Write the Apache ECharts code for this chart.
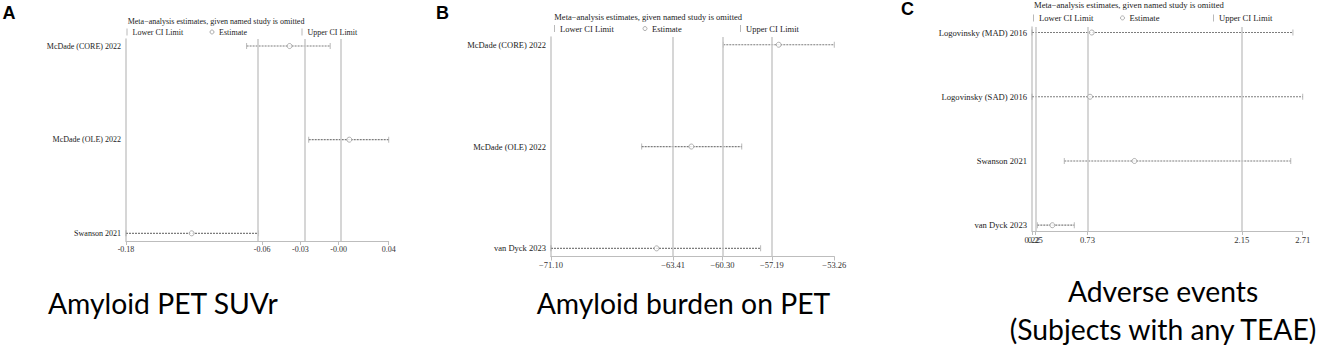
<!DOCTYPE html>
<html>
<head>
<meta charset="utf-8">
<script src="https://cdn.jsdelivr.net/npm/echarts@6/dist/echarts.min.js"></script>
<style>
  html, body { margin: 0; padding: 0; background: #fff; }
  #chart { width: 1325px; height: 352px; }
</style>
</head>
<body>
<div id="chart"></div>
<script>
/** 数据 (leave-one-out 敏感性分析) **/

// A: Amyloid PET SUVr
const studiesA = ['McDade (CORE) 2022', 'McDade (OLE) 2022', 'Swanson 2021'];
const lowerA = [-0.079, -0.027, -0.180];
const estimateA = [-0.043, 0.007, -0.125];
const upperA = [-0.009, 0.040, -0.069];
const overallA = [-0.066, -0.034, -0.002]; // overall lower / estimate / upper
const tickValuesA = [-0.18, -0.066, -0.034, -0.002, 0.04];
const tickLabelsA = ['-0.18', '-0.06', '-0.03', '-0.00', '0.04'];

// B: Amyloid burden on PET
const studiesB = ['McDade (CORE) 2022', 'McDade (OLE) 2022', 'van Dyck 2023'];
const lowerB = [-60.25, -65.39, -71.10];
const estimateB = [-56.76, -62.26, -64.45];
const upperB = [-53.26, -59.09, -57.90];
const overallB = [-63.41, -60.30, -57.19];
const tickValuesB = [-71.10, -63.41, -60.30, -57.19, -53.26];
const tickLabelsB = ['\u221271.10', '\u221263.41', '\u221260.30', '\u221257.19', '\u221253.26'];

// C: Adverse events (Subjects with any TEAE)
const studiesC = ['Logovinsky (MAD) 2016', 'Logovinsky (SAD) 2016', 'Swanson 2021', 'van Dyck 2023'];
const lowerC = [0.22, 0.22, 0.517, 0.269];
const estimateC = [0.770, 0.754, 1.162, 0.407];
const upperC = [2.620, 2.710, 2.600, 0.609];
const overallC = [0.25, 0.73, 2.15];
const tickValuesC = [0.22, 0.25, 0.73, 2.15, 2.71];
const tickLabelsC = ['0.22', '0.25', '0.73', '2.15', '2.71'];

const captions = ['Amyloid PET SUVr', 'Amyloid burden on PET', 'Adverse events\n(Subjects with any TEAE)'];
const panelLetters = ['A', 'B', 'C'];

const SERIF = '"Liberation Serif", "Times New Roman", serif';
const CAPTION_FONT = 'Lato, "Open Sans", sans-serif';
const REF_COLOR = '#c8c8c8';
const TITLE_TEXT = 'Meta\u2212analysis estimates, given named study is omitted';

// 每个面板的版式
const panels = [
  {
    studies: studiesA, lower: lowerA, est: estimateA, upper: upperA, overall: overallA,
    ticks: tickValuesA, labels: tickLabelsA, crowded: [],
    grid: { left: 126, top: 39, width: 262.7, height: 202 }, pad: [0.075, 0.082],
    fs: 8, titlePos: [127.7, 21.7], legendY: 32, legendX: [126.5, 209.5, 301.5]
  },
  {
    studies: studiesB, lower: lowerB, est: estimateB, upper: upperB, overall: overallB,
    ticks: tickValuesB, labels: tickLabelsB, crowded: [],
    grid: { left: 551, top: 37, width: 283.3, height: 219.5 }, pad: [0.076, 0.08],
    fs: 8.5, titlePos: [554.3, 16.7], legendY: 28.3, legendX: [554, 642.5, 740]
  },
  {
    studies: studiesC, lower: lowerC, est: estimateC, upper: upperC, overall: overallC,
    ticks: tickValuesC, labels: tickLabelsC, crowded: [0.25], // 与 0.22 重叠的标签
    grid: { left: 1032, top: 27, width: 270.7, height: 204 }, pad: [0.086, 0.09],
    fs: 8.6, titlePos: [1034, 5], legendY: 17.7, legendX: [1033, 1120, 1213]
  }
];

const grids = [];
const xAxes = [];
const yAxes = [];
const series = [];
const titles = [];
const legends = [];

panels.forEach((p, i) => {
  const rows = p.studies.map((s, k) => k);
  const xIdx = xAxes.length;
  grids.push(p.grid);

  const tickLabel = (v) => {
    const k = p.ticks.findIndex((t) => Math.abs(t - v) < 1e-9);
    return k < 0 ? '' : p.labels[k];
  };
  const labelStyle = {
    hideOverlap: false,
    showMinLabel: true,
    showMaxLabel: true,
    margin: 4,
    color: '#333',
    fontSize: p.fs,
    fontFamily: SERIF,
    formatter: tickLabel
  };

  xAxes.push({
    type: 'value',
    gridIndex: i,
    position: 'bottom',
    min: p.ticks[0],
    max: p.ticks[p.ticks.length - 1],
    splitLine: { show: false },
    axisLine: { show: true, onZero: false, lineStyle: { color: '#bdbdbd', width: 1 } },
    axisTick: { show: true, customValues: p.ticks, length: 4, lineStyle: { color: '#bdbdbd', width: 1 } },
    axisLabel: Object.assign({ customValues: p.ticks.filter((t) => p.crowded.indexOf(t) < 0) }, labelStyle)
  });

  // 重叠的刻度标签单独放一根轴上, 否则会被自动隐藏
  if (p.crowded.length) {
    xAxes.push({
      type: 'value',
      gridIndex: i,
      position: 'bottom',
      min: p.ticks[0],
      max: p.ticks[p.ticks.length - 1],
      splitLine: { show: false },
      axisLine: { show: false, onZero: false },
      axisTick: { show: false },
      axisLabel: Object.assign({ customValues: p.crowded }, labelStyle)
    });
  }

  yAxes.push({
    type: 'value',
    gridIndex: i,
    inverse: true,
    min: -p.pad[0],
    max: p.studies.length - 1 + p.pad[1],
    splitLine: { show: false },
    axisTick: { show: false },
    axisLine: { show: true, onZero: false, lineStyle: { color: REF_COLOR, width: 1.5 } },
    axisLabel: {
      customValues: rows,
      margin: 5,
      color: '#222',
      fontSize: p.fs,
      fontFamily: SERIF,
      formatter: (v) => p.studies[Math.round(v)] || ''
    }
  });

  // 参考竖线 (overall CI / estimate)
  series.push({
    type: 'line',
    name: 'ref' + i,
    xAxisIndex: xIdx,
    yAxisIndex: i,
    data: [],
    z: 1,
    silent: true,
    markLine: {
      silent: true,
      symbol: ['none', 'none'],
      label: { show: false },
      lineStyle: { color: REF_COLOR, width: 1.5, type: 'solid' },
      data: p.overall.map((v) => ({ xAxis: v }))
    }
  });

  // CI 虚线
  series.push({
    type: 'custom',
    name: 'CI' + i,
    xAxisIndex: xIdx,
    yAxisIndex: i,
    z: 3,
    silent: true,
    encode: { x: [0, 1], y: 2 },
    data: rows.map((k) => [p.lower[k], p.upper[k], k]),
    renderItem: (params, api) => {
      const a = api.coord([api.value(0), api.value(2)]);
      const b = api.coord([api.value(1), api.value(2)]);
      return {
        type: 'line',
        shape: { x1: a[0], y1: a[1], x2: b[0], y2: b[1] },
        style: { stroke: '#7d7d7d', lineWidth: 1.2, lineDash: [2, 1] }
      };
    }
  });

  series.push({
    type: 'scatter',
    name: 'Lower CI Limit',
    xAxisIndex: xIdx,
    yAxisIndex: i,
    z: 4,
    symbol: 'rect',
    symbolSize: [1, 6],
    itemStyle: { color: '#a8a8a8' },
    data: rows.map((k) => [p.lower[k], k])
  });

  series.push({
    type: 'scatter',
    name: 'Upper CI Limit',
    xAxisIndex: xIdx,
    yAxisIndex: i,
    z: 4,
    symbol: 'rect',
    symbolSize: [1, 6],
    itemStyle: { color: '#a8a8a8' },
    data: rows.map((k) => [p.upper[k], k])
  });

  series.push({
    type: 'scatter',
    name: 'Estimate',
    xAxisIndex: xIdx,
    yAxisIndex: i,
    z: 5,
    symbol: 'circle',
    symbolSize: 5,
    itemStyle: { color: '#fff', borderColor: '#9a9a9a', borderWidth: 1 },
    data: rows.map((k) => [p.est[k], k])
  });

  titles.push({
    text: TITLE_TEXT,
    left: p.titlePos[0],
    top: p.titlePos[1] - p.fs / 2,
    padding: 0,
    textStyle: { fontFamily: SERIF, fontSize: p.fs, lineHeight: p.fs, fontWeight: 'normal', color: '#222' }
  });

  const legendItems = [
    { name: 'Lower CI Limit', icon: 'rect', w: 1, h: 7, style: { color: '#a8a8a8' } },
    { name: 'Estimate', icon: 'circle', w: 4, h: 4, style: { color: '#fff', borderColor: '#9a9a9a', borderWidth: 1 } },
    { name: 'Upper CI Limit', icon: 'rect', w: 1, h: 7, style: { color: '#a8a8a8' } }
  ];
  legendItems.forEach((it, j) => {
    legends.push({
      data: [{ name: it.name, icon: it.icon, itemStyle: it.style }],
      left: p.legendX[j],
      top: p.legendY - p.fs / 2,
      padding: 0,
      itemWidth: it.w,
      itemHeight: it.h,
      selectedMode: false,
      textStyle: { fontFamily: SERIF, fontSize: p.fs, lineHeight: p.fs, color: '#222' }
    });
  });
});

// 面板字母
const letterPos = [[2.5, 4], [436, 4], [901, 0]];
panelLetters.forEach((t, i) => {
  titles.push({
    text: t,
    left: letterPos[i][0],
    top: letterPos[i][1],
    padding: 0,
    textStyle: { fontFamily: '"Liberation Sans", Arial, sans-serif', fontSize: 18, fontWeight: 'bold', color: '#000' }
  });
});

// 底部说明文字
const captionStyle = { fontFamily: CAPTION_FONT, fontSize: 28.3, lineHeight: 32, fontWeight: 'normal', color: '#000' };
titles.push({ text: captions[0], left: 48, top: 286.5, padding: 0, textStyle: captionStyle });
titles.push({ text: captions[1], left: 536.7, top: 286.5, padding: 0, textStyle: captionStyle });
titles.push({
  text: captions[2], left: 1163, top: 271.5, padding: 0, textAlign: 'center',
  textStyle: Object.assign({}, captionStyle, { lineHeight: 38 })
});

const myChart = echarts.init(document.getElementById('chart'), null, { renderer: 'svg' });
myChart.setOption({
  animation: false,
  backgroundColor: '#fff',
  title: titles,
  legend: legends,
  grid: grids,
  xAxis: xAxes,
  yAxis: yAxes,
  series: series
});
</script>
</body>
</html>
